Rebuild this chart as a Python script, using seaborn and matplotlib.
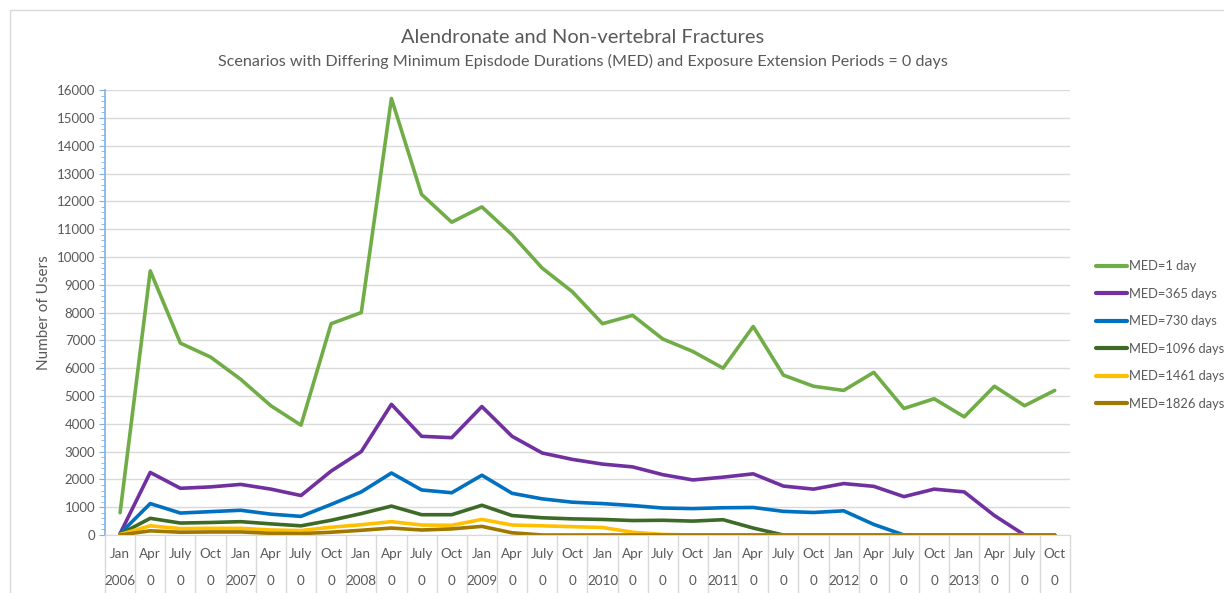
import matplotlib
matplotlib.use("Agg")
import matplotlib.pyplot as plt
import matplotlib.transforms as mtransforms
from matplotlib.patches import Rectangle
from matplotlib.ticker import MultipleLocator
import seaborn as sns
import pandas as pd

months = ["Jan", "Apr", "July", "Oct"] * 8
years = []
for y in range(2006, 2014):
    years += [str(y), "0", "0", "0"]

med_1 = [800, 9500, 6900, 6400, 5600, 4650, 3950, 7600, 8000, 15700, 12250, 11250,
         11800, 10800, 9600, 8750, 7600, 7900, 7050, 6600, 6000, 7500, 5750, 5350,
         5200, 5850, 4550, 4900, 4250, 5350, 4650, 5200]
med_365 = [50, 2250, 1680, 1730, 1820, 1650, 1420, 2300, 3000, 4700, 3550, 3500,
           4620, 3550, 2950, 2720, 2550, 2450, 2170, 1980, 2080, 2200, 1760, 1650,
           1850, 1750, 1380, 1650, 1550, 700, 0, 0]
med_730 = [50, 1130, 790, 840, 890, 750, 670, 1100, 1550, 2230, 1620, 1520,
           2150, 1500, 1300, 1180, 1130, 1060, 970, 950, 980, 990, 850, 810,
           870, 380, 0, 0, 0, 0, 0, 0]
med_1096 = [30, 600, 430, 450, 480, 400, 330, 530, 770, 1040, 730, 730,
            1070, 700, 620, 580, 560, 520, 530, 500, 550, 250, 0, 0,
            0, 0, 0, 0, 0, 0, 0, 0]
med_1461 = [20, 330, 230, 240, 240, 180, 160, 280, 370, 480, 360, 350,
            560, 360, 330, 300, 270, 100, 20, 0, 0, 0, 0, 0,
            0, 0, 0, 0, 0, 0, 0, 0]
med_1826 = [0, 150, 100, 110, 110, 60, 50, 100, 170, 250, 180, 220,
            310, 80, 0, 0, 0, 0, 0, 0, 0, 0, 0, 0,
            0, 0, 0, 0, 0, 0, 0, 0]

series_names = ["MED=1 day", "MED=365 days", "MED=730 days",
                "MED=1096 days", "MED=1461 days", "MED=1826 days"]
series_values = [med_1, med_365, med_730, med_1096, med_1461, med_1826]
colors = ["#70AD47", "#7030A0", "#0070C0", "#3D6B27", "#FFC000", "#A07800"]

rows = []
for name, vals in zip(series_names, series_values):
    for i, v in enumerate(vals):
        rows.append({"idx": i, "users": v, "series": name})
df = pd.DataFrame(rows)

sns.set_style("white")
plt.rcParams["font.family"] = ["Lato", "DejaVu Sans"]
text_col = "#595959"
grid_col = "#D9D9D9"

fig = plt.figure(figsize=(12.24, 5.93), dpi=100)
ax = fig.add_axes([0.0858, 0.0978, 0.874 - 0.0858, 0.848 - 0.0978])

# chart border
fig.patches.append(Rectangle((0.0082, -0.1), 1.2, 1.083, transform=fig.transFigure,
                             fill=False, edgecolor=grid_col, linewidth=1))

sns.lineplot(data=df, x="idx", y="users", hue="series", hue_order=series_names,
             palette=colors, linewidth=2.6, ax=ax, legend=True)

ax.set_xlim(-0.5, len(months) - 0.5)
ax.set_ylim(0, 16000)
ax.yaxis.set_major_locator(MultipleLocator(1000))
ax.yaxis.set_minor_locator(MultipleLocator(200))
ax.grid(axis="y", color=grid_col, linewidth=1)
ax.set_axisbelow(True)

for s in ["top", "right"]:
    ax.spines[s].set_visible(False)
ax.spines["left"].set_color("#7FB2E5")
ax.spines["left"].set_linewidth(1.2)
ax.spines["bottom"].set_color(grid_col)
ax.tick_params(axis="y", which="major", direction="out", length=4, color="#7FB2E5",
               labelsize=9.5, labelcolor=text_col, left=True, pad=3)
ax.tick_params(axis="y", which="minor", direction="out", length=3, color="#7FB2E5", left=True)

ax.set_xticks(range(len(months)))
ax.set_xticklabels([])
ax.tick_params(axis="x", length=0)
ax.set_xlabel("")

trans = mtransforms.blended_transform_factory(ax.transData, ax.transAxes)
for i, (m, y) in enumerate(zip(months, years)):
    ax.text(i, -0.043, m, transform=trans, ha="center", va="center",
            fontsize=9.7, color=text_col, clip_on=False)
    ax.text(i, -0.104, y, transform=trans, ha="center", va="center",
            fontsize=9.7, color=text_col, clip_on=False)
for k in range(len(months) + 1):
    ax.plot([k - 0.5, k - 0.5], [0, -0.14], transform=trans, color=grid_col,
            linewidth=1, clip_on=False)

ax.set_ylabel("Number of Users", fontsize=11, color=text_col, labelpad=4)

fig.text(0.476, 0.936, "Alendronate and Non-vertebral Fractures", ha="center",
         va="center", fontsize=14.4, color=text_col)
fig.text(0.476, 0.896, "Scenarios with Differing Minimum Episdode Durations (MED) and "
         "Exposure Extension Periods = 0 days", ha="center", va="center",
         fontsize=11.6, color=text_col)

leg = ax.legend(loc="upper left", bbox_to_anchor=(0.8915, 0.57),
                bbox_transform=fig.transFigure, frameon=False, fontsize=9.3,
                handlelength=2.4, handletextpad=0.1, labelspacing=1.2,
                borderaxespad=0)
for t in leg.get_texts():
    t.set_color(text_col)
for h in leg.get_lines():
    h.set_linewidth(3)

fig.savefig("out.png", dpi=100)
